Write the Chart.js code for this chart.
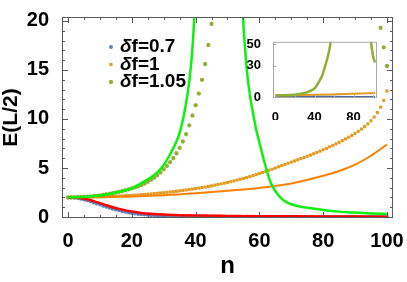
<!DOCTYPE html>
<html>
<head>
<meta charset="utf-8">
<script src="https://cdn.jsdelivr.net/npm/chart.js@4.4.0/dist/chart.umd.min.js"></script>
<style>
  body { margin: 0; background: #fff; }
  #wrap { position: relative; width: 407px; height: 282px; }
  #main { position: absolute; left: 0; top: 0; }
  #inset { position: absolute; left: 240px; top: 30px; }
</style>
</head>
<body>
<div id="wrap">
  <canvas id="main" width="407" height="282"></canvas>
  <canvas id="inset" width="140" height="90"></canvas>
</div>
<script>
// n = 0..100 for the dotted series
var nDots = [];
for (var i = 0; i <= 100; i++) nDots.push(i);

var legendLabels = ["δf=0.7", "δf=1", "δf=1.05"];

// δf=0.7 (blue dots)
var blueDots = [
  2.00, 1.99, 1.97, 1.93, 1.87, 1.79, 1.70, 1.60, 1.49, 1.38,
  1.27, 1.16, 1.05, 0.95, 0.85, 0.76, 0.68, 0.60, 0.53, 0.47,
  0.41, 0.36, 0.32, 0.28, 0.25, 0.22, 0.19, 0.17, 0.15, 0.13,
  0.12, 0.10, 0.09, 0.08, 0.07, 0.06, 0.06, 0.05, 0.05, 0.04,
  0.04, 0.04, 0.03, 0.03, 0.03, 0.03, 0.02, 0.02, 0.02, 0.02,
  0.02, 0.02, 0.02, 0.02, 0.02, 0.02, 0.02, 0.02, 0.02, 0.02,
  0.02, 0.02, 0.02, 0.02, 0.02, 0.02, 0.02, 0.02, 0.02, 0.02,
  0.02, 0.01, 0.01, 0.01, 0.01, 0.01, 0.01, 0.01, 0.01, 0.01,
  0.01, 0.01, 0.01, 0.01, 0.01, 0.01, 0.01, 0.01, 0.01, 0.01,
  0.01, 0.01, 0.01, 0.01, 0.01, 0.01, 0.01, 0.01, 0.01, 0.01,
  0.01
];

// δf=1 (orange dots)
var orangeDots = [
  2.00, 2.00, 2.00, 2.01, 2.01, 2.02, 2.02, 2.03, 2.04, 2.05,
  2.06, 2.07, 2.08, 2.09, 2.11, 2.12, 2.14, 2.15, 2.17, 2.19,
  2.21, 2.23, 2.25, 2.28, 2.30, 2.33, 2.36, 2.39, 2.42, 2.45,
  2.48, 2.52, 2.55, 2.59, 2.63, 2.67, 2.71, 2.76, 2.80, 2.85,
  2.90, 2.95, 3.01, 3.06, 3.12, 3.18, 3.25, 3.31, 3.38, 3.45,
  3.53, 3.60, 3.68, 3.77, 3.85, 3.94, 4.03, 4.13, 4.23, 4.33,
  4.43, 4.54, 4.65, 4.77, 4.88, 5.00, 5.12, 5.24, 5.36, 5.48,
  5.60, 5.72, 5.84, 5.96, 6.08, 6.20, 6.32, 6.45, 6.58, 6.72,
  6.86, 7.00, 7.15, 7.30, 7.46, 7.62, 7.79, 7.96, 8.14, 8.33,
  8.53, 8.74, 8.97, 9.22, 9.50, 9.82, 10.20, 10.65, 11.20, 11.90,
  12.85
];

// δf=1.05 (olive dots), off the top of the plot between 46 and 97
var oliveDots = [
  2.00, 2.00, 2.01, 2.02, 2.03, 2.05, 2.07, 2.10, 2.13, 2.17,
  2.21, 2.26, 2.31, 2.37, 2.43, 2.50, 2.57, 2.65, 2.73, 2.82,
  2.92, 3.02, 3.13, 3.27, 3.42, 3.60, 3.80, 4.02, 4.27, 4.55,
  4.87, 5.22, 5.60, 6.02, 6.50, 7.05, 7.70, 8.45, 9.35, 10.35,
  11.40, 12.60, 14.00, 15.60, 17.55, 19.70, null, null, null, null,
  null, null, null, null, null, null, null, null, null, null,
  null, null, null, null, null, null, null, null, null, null,
  null, null, null, null, null, null, null, null, null, null,
  null, null, null, null, null, null, null, null, null, null,
  null, null, null, null, null, null, null, null, 19.30, 17.30,
  15.40
];

// solid curves
var redN = [0, 2, 4, 6, 8, 10, 12, 14, 16, 18, 20, 23, 26, 30, 35, 40, 50, 60, 70, 80, 90, 100];
var redE = [2.0, 1.98, 1.92, 1.8, 1.62, 1.42, 1.2, 1.0, 0.82, 0.68, 0.56, 0.42, 0.33, 0.25, 0.19, 0.15, 0.11, 0.08, 0.07, 0.06, 0.05, 0.04];

var orangeN = [0, 10, 20, 30, 40, 50, 60, 70, 80, 85, 90, 95, 100];
var orangeE = [2.0, 2.03, 2.1, 2.22, 2.42, 2.68, 2.97, 3.42, 4.2, 4.7, 5.35, 6.25, 7.4];

var greenN = [0, 5, 10, 15, 20, 23, 26, 28, 30, 32, 34, 35, 36, 37, 38, 39, 40,
  47,
  54.5, 55, 56, 57, 58, 59, 60, 61, 62, 63, 64, 66, 68, 70, 73, 76, 80, 85, 90, 95, 100];
var greenE = [2.0, 2.05, 2.2, 2.5, 2.95, 3.45, 4.05, 4.55, 5.3, 6.4, 7.7, 8.6, 9.9, 11.6, 13.8, 17.2, 22.5,
  null,
  22.5, 19.6, 15.2, 12.5, 10.6, 8.9, 7.6, 6.3, 5.1, 4.0, 3.2, 2.2, 1.6, 1.3, 1.05, 0.9, 0.72, 0.55, 0.45, 0.37, 0.3];

// inset curves
var insetOliveN = [0, 10, 20, 25, 30, 35, 40, 45, 48, 50, 52, 54, 56, 57, 80, 97.5, 99, 100.5, 102];
var insetOliveE = [2.0, 2.1, 2.6, 3.2, 4.2, 5.9, 8.6, 15.5, 21, 27, 33, 40, 49, 56, null, 55, 44, 37, 33];
var insetOrangeN = [0, 20, 40, 60, 80, 102];
var insetOrangeE = [2.0, 2.2, 2.5, 2.9, 3.4, 4.2];
var insetBlueN = [0, 5, 10, 15, 20, 30, 50, 102];
var insetBlueE = [2.0, 1.6, 1.1, 0.8, 0.6, 0.45, 0.35, 0.3];

var xTicks = [0, 20, 40, 60, 80, 100];
var yTicks = [0, 5, 10, 15, 20];
var insetXTicks = [0, 40, 80];
var insetYTicks = [0, 30, 50];

function pts(xs, ys) {
  return xs.map(function (x, k) { return { x: x, y: ys[k] }; });
}
function range(a, b, s) {
  var out = [];
  for (var v = a; v <= b + 1e-9; v += s) out.push(v);
  return out;
}

// frame around the plot with inward ticks on all four sides
var frameTicks = {
  id: "frameTicks",
  afterDatasetsDraw: function (chart, args, o) {
    var ctx = chart.ctx, a = chart.chartArea, x = chart.scales.x, y = chart.scales.y;
    ctx.save();
    ctx.strokeStyle = o.color;
    ctx.lineWidth = 1;
    ctx.strokeRect(a.left + 0.5, a.top + 0.5, a.right - a.left - 1, a.bottom - a.top - 1);
    ctx.beginPath();
    function xt(vals, len) {
      vals.forEach(function (v) {
        var px = Math.round(x.getPixelForValue(v)) + 0.5;
        ctx.moveTo(px, a.bottom); ctx.lineTo(px, a.bottom - len);
        if (o.both) { ctx.moveTo(px, a.top); ctx.lineTo(px, a.top + len); }
      });
    }
    function yt(vals, len) {
      vals.forEach(function (v) {
        var py = Math.round(y.getPixelForValue(v)) + 0.5;
        ctx.moveTo(a.left, py); ctx.lineTo(a.left + len, py);
        if (o.both) { ctx.moveTo(a.right, py); ctx.lineTo(a.right - len, py); }
      });
    }
    xt(o.xMinor, o.minor); xt(o.xMajor, o.major);
    yt(o.yMinor, o.minor); yt(o.yMajor, o.major);
    ctx.stroke();
    ctx.restore();
  }
};

// legend drawn inside the plot area
var dotLegend = {
  id: "dotLegend",
  afterDraw: function (chart, args, o) {
    var ctx = chart.ctx;
    ctx.save();
    o.items.forEach(function (idx, k) {
      var ds = chart.data.datasets[idx];
      var yy = o.y + k * o.gap;
      ctx.fillStyle = ds.backgroundColor;
      ctx.strokeStyle = ds.borderColor;
      ctx.lineWidth = ds.borderWidth;
      Chart.helpers.drawPoint(ctx, { pointStyle: ds.pointStyle, radius: ds.pointRadius, borderWidth: ds.borderWidth, rotation: 0 }, o.x, yy);
      var label = ds.label;
      ctx.fillStyle = "#000";
      ctx.textBaseline = "middle";
      ctx.font = "italic bold " + o.size + "px 'Liberation Sans'";
      ctx.fillText(label.charAt(0), o.x + 9, yy);
      var w = ctx.measureText(label.charAt(0)).width;
      ctx.font = "bold " + o.size + "px 'Liberation Sans'";
      ctx.fillText(label.slice(1), o.x + 9 + w, yy);
    });
    ctx.restore();
  }
};

var tickFont = { family: "Liberation Sans", weight: "bold", size: 20 };

new Chart(document.getElementById("main"), {
  type: "scatter",
  data: {
    datasets: [
      { label: "green", data: pts(greenN, greenE), showLine: true, pointRadius: 0, borderColor: "#0ef00e", borderWidth: 2.5, cubicInterpolationMode: "monotone", spanGaps: false },
      { label: "red", data: pts(redN, redE), showLine: true, pointRadius: 0, borderColor: "#ff0000", borderWidth: 2.5, cubicInterpolationMode: "monotone" },
      { label: "orange", data: pts(orangeN, orangeE), showLine: true, pointRadius: 0, borderColor: "#ff8000", borderWidth: 2, cubicInterpolationMode: "monotone" },
      { label: legendLabels[2], data: pts(nDots, oliveDots), pointStyle: "star", pointRadius: 2.1, borderWidth: 1.3, borderColor: "#8fb032", backgroundColor: "#8fb032" },
      { label: legendLabels[1], data: pts(nDots, orangeDots), pointStyle: "rect", pointRadius: 2.2, borderWidth: 0, borderColor: "#e19c24", backgroundColor: "#e19c24" },
      { label: legendLabels[0], data: pts(nDots, blueDots), pointStyle: "circle", pointRadius: 2, borderWidth: 0, borderColor: "#5e81b5", backgroundColor: "#5e81b5" }
    ]
  },
  options: {
    responsive: false,
    animation: false,
    layout: { padding: { top: 13, right: 14, left: 0, bottom: 0 } },
    plugins: {
      legend: { display: false },
      tooltip: { enabled: false },
      frameTicks: {
        color: "#5a5a5a", both: true, major: 6, minor: 3,
        xMajor: xTicks, xMinor: range(0, 100, 5),
        yMajor: yTicks, yMinor: range(0, 20, 1)
      },
      dotLegend: { items: [5, 4, 3], x: 111, y: 47, gap: 17.5, size: 19 }
    },
    scales: {
      x: {
        type: "linear", min: -1.9, max: 101.9,
        afterBuildTicks: function (s) { s.ticks = xTicks.map(function (v) { return { value: v }; }); },
        afterFit: function (s) { s.height = 64; },
        grid: { display: false }, border: { display: false },
        ticks: { font: tickFont, color: "#000", padding: 3, maxRotation: 0 },
        title: { display: true, text: "n", color: "#000", font: { family: "Liberation Sans", weight: "bold", size: 24 }, padding: { top: 0, bottom: 1 } }
      },
      y: {
        type: "linear", min: -0.1, max: 20.4,
        afterBuildTicks: function (s) { s.ticks = yTicks.map(function (v) { return { value: v }; }); },
        afterFit: function (s) { s.width = 62; },
        grid: { display: false }, border: { display: false },
        ticks: { font: tickFont, color: "#000", padding: 5 },
        title: { display: true, text: "E(L/2)", color: "#000", font: { family: "Liberation Sans", weight: "bold", size: 21, lineHeight: 1 }, padding: { top: 1, bottom: 0 } }
      }
    }
  },
  plugins: [frameTicks, dotLegend]
});

var insetFont = { family: "Liberation Sans", weight: "bold", size: 13 };

new Chart(document.getElementById("inset"), {
  type: "scatter",
  data: {
    datasets: [
      { data: pts(insetOliveN, insetOliveE), showLine: true, pointRadius: 0, borderColor: "#8fb032", borderWidth: 2.5, cubicInterpolationMode: "monotone", spanGaps: false },
      { data: pts(insetOrangeN, insetOrangeE), showLine: true, pointRadius: 0, borderColor: "#e19c24", borderWidth: 2, cubicInterpolationMode: "monotone" },
      { data: pts(insetBlueN, insetBlueE), showLine: true, pointRadius: 0, borderColor: "#4a6aa3", borderWidth: 2.5, cubicInterpolationMode: "monotone" }
    ]
  },
  options: {
    responsive: false,
    animation: false,
    layout: { padding: { top: 4, right: 3, left: 0, bottom: 0 } },
    plugins: {
      legend: { display: false },
      tooltip: { enabled: false },
      frameTicks: {
        color: "#aaa", both: false, major: 3, minor: 3,
        xMajor: range(0, 100, 20), xMinor: [],
        yMajor: insetYTicks, yMinor: []
      }
    },
    scales: {
      x: {
        type: "linear", min: -2.5, max: 104,
        afterBuildTicks: function (s) { s.ticks = insetXTicks.map(function (v) { return { value: v }; }); },
        afterFit: function (s) { s.height = 22; },
        grid: { display: false }, border: { display: false },
        ticks: { font: insetFont, color: "#000", padding: 4, maxRotation: 0 }
      },
      y: {
        type: "linear", min: -0.5, max: 52.5,
        afterBuildTicks: function (s) { s.ticks = insetYTicks.map(function (v) { return { value: v }; }); },
        afterFit: function (s) { s.width = 33; },
        grid: { display: false }, border: { display: false },
        ticks: { font: insetFont, color: "#000", padding: 4 }
      }
    }
  },
  plugins: [frameTicks]
});
</script>
</body>
</html>
